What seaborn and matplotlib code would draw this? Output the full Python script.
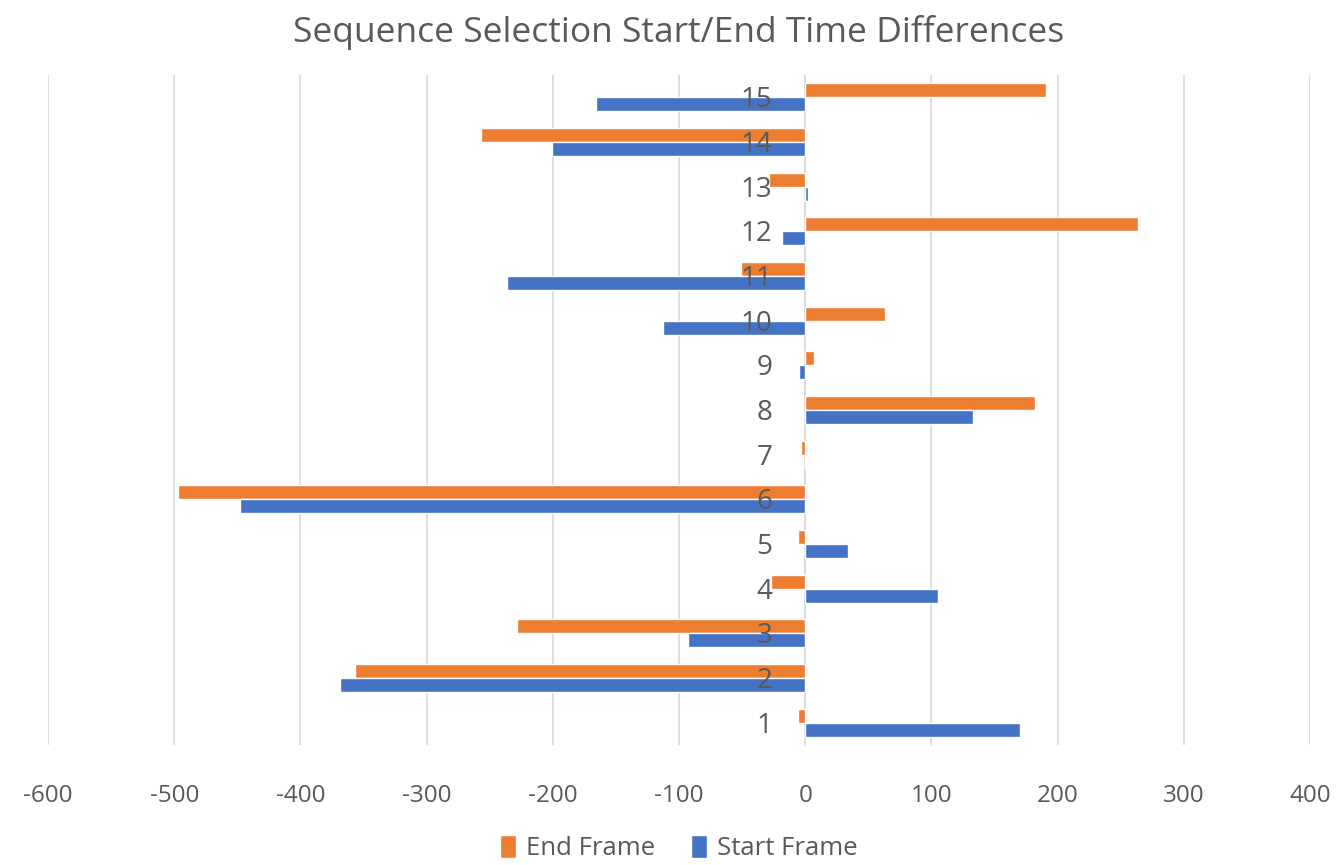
import matplotlib
matplotlib.use("Agg")
import matplotlib.pyplot as plt
import matplotlib.transforms as mtransforms
import seaborn as sns
import pandas as pd

categories = ["1", "2", "3", "4", "5", "6", "7", "8", "9", "10", "11", "12", "13", "14", "15"]
end_frame = [-6, -357, -228, -27, -6, -497, -3, 182, 7, 63, -51, 264, -29, -257, 191]
start_frame = [170, -369, -93, 105, 34, -448, 1, 133, -5, -113, -236, -18, 2, -201, -166]
series_names = ["End Frame", "Start Frame"]
colors = ["#ED7D31", "#4472C4"]
xticks = [-600, -500, -400, -300, -200, -100, 0, 100, 200, 300, 400]

df = pd.DataFrame({
    "cat": categories * 2,
    "value": end_frame + start_frame,
    "series": [series_names[0]] * len(categories) + [series_names[1]] * len(categories),
})

sns.set_theme(style="white")
plt.rcParams["font.family"] = ["Open Sans", "DejaVu Sans"]
text_color = "#595959"

fig = plt.figure(figsize=(13.42, 8.65), dpi=100)
ax = fig.add_axes([48 / 1342, 1 - 745 / 865, (1310 - 48) / 1342, (745 - 75) / 865])

order = categories[::-1]
sns.barplot(data=df, y="cat", x="value", hue="series", order=order,
            hue_order=series_names, palette=colors, orient="h",
            width=0.62, ax=ax, saturation=1, legend=True)

ax.set_xlim(-600, 400)
ax.set_xticks(xticks)
ax.set_xticklabels([str(v) for v in xticks], fontsize=17.5, color=text_color)
ax.tick_params(axis="x", length=0, pad=28)
ax.set_yticks([])
ax.set_xlabel("")
ax.set_ylabel("")
for s in ax.spines.values():
    s.set_visible(False)
ax.grid(axis="x", color="#d9d9d9", linewidth=1.2)
ax.set_axisbelow(True)
ax.axvline(0, color="#d9d9d9", linewidth=1.2, zorder=0.5)

# category labels next to the zero axis
offset = mtransforms.offset_copy(ax.transData, fig=fig, x=-33, y=-3, units="dots")
for i, c in enumerate(order):
    ax.text(0, i, c, transform=offset, ha="right", va="center",
            fontsize=20, color=text_color, zorder=5)

ax.set_title("Sequence Selection Start/End Time Differences", fontsize=25.5,
             color=text_color, pad=24)

leg = ax.legend(loc="upper center", bbox_to_anchor=(0.5, -0.107), ncol=2,
                frameon=False, fontsize=18.5, handlelength=0.6, handleheight=1.0,
                handletextpad=0.4, columnspacing=1.4, borderpad=0.2)
for t in leg.get_texts():
    t.set_color(text_color)

fig.savefig("out.png", dpi=100)
